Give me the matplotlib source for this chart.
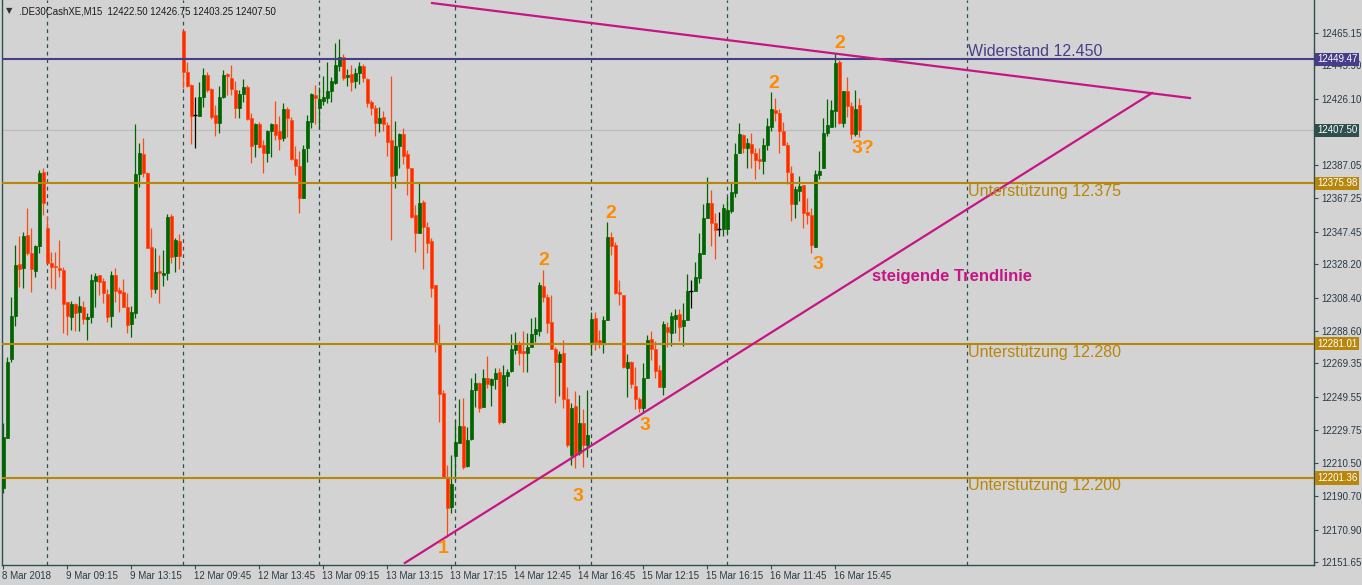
import matplotlib
matplotlib.use("Agg")
import matplotlib.pyplot as plt
import matplotlib.transforms as mtransforms

plt.rcParams['font.family'] = ['Liberation Sans', 'DejaVu Sans']

# DE30 M15 candles (one row = 10 bars)
opens = [
    12195.6, 12225.2, 12272.0, 12297.4, 12328.2, 12325.9, 12345.4, 12334.7, 12324.1, 12338.9,
    12382.8, 12349.6, 12328.8, 12327.0, 12325.9, 12324.7, 12305.7, 12296.9, 12304.5, 12299.8,
    12302.8, 12295.7, 12296.9, 12318.2, 12321.7, 12318.2, 12310.4, 12297.4, 12321.7, 12312.8,
    12311.6, 12302.8, 12292.7, 12299.2, 12381.6, 12393.4, 12382.2, 12338.4, 12313.5, 12324.1,
    12321.7, 12322.9, 12356.7, 12332.9, 12341.9, 12466.3, 12442.0, 12434.3, 12416.5, 12415.9,
    12427.3, 12440.2, 12432.0, 12416.5, 12411.8, 12427.3, 12440.8, 12438.5, 12431.4, 12420.7,
    12429.0, 12433.2, 12414.7, 12399.3, 12411.2, 12398.7, 12394.0, 12407.1, 12411.2, 12407.1,
    12403.0, 12420.1, 12413.6, 12390.5, 12386.3, 12367.4, 12397.0, 12412.4, 12428.4, 12420.7,
    12424.8, 12426.6, 12430.8, 12435.5, 12445.6, 12450.9, 12439.1, 12440.8, 12436.7, 12441.4,
    12445.6, 12437.9, 12424.2, 12420.7, 12411.8, 12415.3, 12410.6, 12401.7, 12381.0, 12398.1,
    12405.3, 12393.4, 12385.2, 12357.3, 12346.6, 12365.0, 12350.2, 12341.9, 12315.8, 12280.8,
    12251.8, 12202.0, 12184.3, 12214.5, 12222.2, 12232.3, 12208.6, 12224.6, 12253.6, 12257.7,
    12243.5, 12260.7, 12256.5, 12260.1, 12264.2, 12234.6, 12261.9, 12264.8, 12277.3, 12281.4,
    12276.7, 12275.5, 12279.1, 12286.8, 12288.5, 12315.2, 12308.7, 12293.9, 12277.9, 12270.2,
    12275.5, 12248.3, 12215.1, 12244.1, 12216.3, 12234.0, 12221.0, 12282.0, 12296.3, 12283.2,
    12281.4, 12295.1, 12344.2, 12339.5, 12311.6, 12309.8, 12266.6, 12270.2, 12256.0, 12248.3,
    12242.9, 12260.7, 12283.8, 12277.9, 12265.4, 12255.4, 12290.9, 12287.3, 12295.7, 12298.6,
    12291.5, 12295.1, 12312.2, 12312.2, 12320.0, 12334.1, 12355.5, 12364.4, 12352.5, 12349.0,
    12349.0, 12349.0, 12359.7, 12370.3, 12394.0, 12404.7, 12397.0, 12399.3, 12394.0, 12390.5,
    12389.3, 12398.7, 12409.4, 12419.5, 12417.7, 12407.1, 12398.7, 12382.2, 12363.8, 12371.5,
    12375.1, 12359.1, 12357.3, 12338.4, 12381.0, 12385.2, 12405.9, 12409.4, 12418.9, 12448.0,
    12411.8, 12430.8, 12421.9, 12405.3, 12422.5,
]
highs = [
    12234.0, 12273.2, 12308.7, 12339.5, 12344.8, 12347.2, 12361.5, 12349.6, 12339.5, 12384.0,
    12385.2, 12356.7, 12335.3, 12335.3, 12342.5, 12326.5, 12305.7, 12306.3, 12305.1, 12309.2,
    12306.3, 12299.2, 12322.3, 12322.9, 12321.7, 12320.0, 12313.5, 12324.1, 12325.9, 12314.7,
    12319.4, 12311.0, 12303.3, 12411.2, 12399.9, 12403.0, 12382.8, 12349.6, 12337.8, 12333.5,
    12336.5, 12357.9, 12357.9, 12343.7, 12346.0, 12466.9, 12447.9, 12434.9, 12427.3, 12436.1,
    12444.4, 12442.0, 12432.6, 12422.4, 12433.7, 12443.2, 12441.4, 12446.1, 12436.7, 12431.4,
    12437.9, 12434.3, 12417.7, 12411.8, 12412.4, 12401.7, 12407.7, 12411.8, 12424.8, 12415.9,
    12423.6, 12421.3, 12415.3, 12398.1, 12395.2, 12398.7, 12416.5, 12429.6, 12434.3, 12433.2,
    12439.6, 12448.0, 12439.1, 12459.2, 12461.6, 12452.7, 12443.8, 12446.2, 12444.4, 12448.0,
    12446.8, 12438.5, 12425.4, 12422.4, 12421.3, 12418.9, 12412.4, 12439.6, 12413.0, 12405.9,
    12408.9, 12395.8, 12385.2, 12363.2, 12376.3, 12366.2, 12353.1, 12343.7, 12315.8, 12292.7,
    12253.6, 12209.1, 12215.1, 12235.8, 12248.3, 12248.9, 12231.7, 12260.7, 12263.7, 12258.3,
    12266.0, 12273.7, 12260.7, 12266.6, 12266.6, 12268.4, 12266.0, 12286.8, 12287.9, 12282.6,
    12288.5, 12287.3, 12296.3, 12296.9, 12317.6, 12324.7, 12310.4, 12309.8, 12279.1, 12276.7,
    12283.2, 12255.4, 12245.9, 12253.0, 12250.6, 12242.3, 12253.6, 12299.8, 12299.8, 12289.1,
    12297.4, 12353.1, 12347.2, 12341.3, 12318.8, 12309.8, 12274.9, 12270.8, 12267.2, 12249.4,
    12269.6, 12286.2, 12288.5, 12282.6, 12268.4, 12294.5, 12293.9, 12299.8, 12301.6, 12301.6,
    12305.1, 12322.3, 12318.8, 12329.4, 12346.6, 12363.8, 12379.8, 12372.1, 12358.5, 12359.1,
    12363.8, 12368.0, 12376.3, 12399.9, 12411.8, 12405.3, 12403.0, 12405.9, 12397.0, 12397.0,
    12403.0, 12414.7, 12430.2, 12426.6, 12420.1, 12412.4, 12400.6, 12386.3, 12374.5, 12380.4,
    12375.1, 12367.4, 12361.5, 12384.0, 12395.2, 12414.7, 12426.0, 12425.4, 12453.3, 12449.1,
    12430.8, 12439.1, 12424.2, 12431.4, 12426.75,
]
lows = [
    12192.5, 12225.2, 12270.2, 12291.5, 12314.7, 12314.1, 12333.5, 12311.6, 12320.6, 12334.7,
    12357.3, 12328.8, 12314.1, 12313.5, 12320.6, 12287.3, 12286.1, 12289.1, 12288.5, 12288.5,
    12292.7, 12283.2, 12293.3, 12302.8, 12309.8, 12305.1, 12293.9, 12291.0, 12305.7, 12299.8,
    12302.8, 12287.3, 12285.0, 12296.3, 12373.9, 12379.9, 12337.8, 12308.7, 12311.0, 12305.1,
    12315.2, 12318.8, 12328.8, 12323.5, 12325.3, 12432.6, 12433.2, 12399.3, 12397.0, 12415.9,
    12421.3, 12430.2, 12414.2, 12404.1, 12405.9, 12426.7, 12428.4, 12428.4, 12414.7, 12414.7,
    12424.2, 12413.6, 12388.1, 12391.7, 12397.0, 12382.2, 12388.7, 12391.7, 12401.7, 12395.8,
    12401.1, 12403.5, 12389.9, 12381.0, 12358.5, 12367.4, 12388.7, 12408.9, 12411.2, 12408.3,
    12422.4, 12423.7, 12424.2, 12434.9, 12442.6, 12437.3, 12433.7, 12430.8, 12432.6, 12434.9,
    12436.1, 12421.3, 12416.5, 12404.1, 12406.5, 12407.1, 12392.3, 12342.5, 12373.3, 12385.2,
    12387.5, 12369.1, 12355.5, 12335.3, 12346.6, 12325.3, 12334.7, 12308.7, 12276.1, 12234.6,
    12202.0, 12166.5, 12180.7, 12200.3, 12222.2, 12206.8, 12208.0, 12224.0, 12243.5, 12240.5,
    12243.5, 12254.8, 12244.1, 12254.2, 12233.4, 12234.0, 12256.0, 12264.2, 12274.9, 12268.4,
    12264.2, 12264.2, 12279.1, 12282.0, 12285.6, 12305.7, 12287.3, 12277.9, 12245.9, 12250.0,
    12242.9, 12219.8, 12209.1, 12207.4, 12215.1, 12208.0, 12213.9, 12274.3, 12277.3, 12278.5,
    12275.5, 12295.1, 12333.5, 12310.4, 12304.0, 12266.6, 12249.4, 12254.8, 12242.3, 12240.5,
    12240.0, 12260.7, 12271.4, 12260.7, 12255.4, 12250.6, 12279.1, 12279.7, 12287.3, 12282.6,
    12279.7, 12295.1, 12302.2, 12312.2, 12317.0, 12334.1, 12355.5, 12338.9, 12331.2, 12344.8,
    12344.8, 12346.6, 12358.5, 12368.0, 12394.0, 12394.0, 12385.2, 12385.2, 12378.6, 12384.6,
    12381.6, 12395.8, 12407.1, 12413.0, 12394.0, 12398.7, 12375.7, 12353.7, 12355.5, 12365.6,
    12349.6, 12351.9, 12334.7, 12338.4, 12378.6, 12385.2, 12404.1, 12409.4, 12409.4, 12411.2,
    12409.4, 12415.3, 12402.3, 12404.1, 12403.25,
]
closes = [
    12225.8, 12270.2, 12297.4, 12327.6, 12325.3, 12344.8, 12334.7, 12325.3, 12338.9, 12382.2,
    12364.4, 12328.8, 12326.5, 12326.5, 12324.7, 12304.5, 12297.4, 12304.5, 12299.2, 12303.3,
    12295.7, 12296.9, 12318.8, 12321.1, 12317.6, 12311.0, 12296.9, 12321.7, 12312.2, 12311.0,
    12302.8, 12292.1, 12299.8, 12381.6, 12394.0, 12382.2, 12337.8, 12313.5, 12323.5, 12322.9,
    12322.9, 12356.2, 12332.4, 12342.5, 12332.9, 12442.0, 12433.7, 12415.9, 12416.5, 12427.3,
    12440.2, 12431.4, 12415.3, 12411.8, 12427.3, 12440.2, 12439.6, 12432.0, 12420.7, 12429.0,
    12433.2, 12414.2, 12398.1, 12411.2, 12397.6, 12394.0, 12407.1, 12411.2, 12404.7, 12402.3,
    12420.1, 12414.7, 12390.5, 12386.3, 12367.4, 12396.4, 12413.0, 12429.0, 12426.6, 12426.0,
    12427.3, 12430.8, 12436.7, 12446.2, 12450.9, 12438.5, 12440.2, 12436.1, 12441.4, 12445.6,
    12438.5, 12423.7, 12420.7, 12411.8, 12414.7, 12411.2, 12400.6, 12380.4, 12398.1, 12405.3,
    12392.3, 12385.2, 12356.1, 12346.6, 12364.4, 12350.2, 12340.7, 12314.1, 12280.8, 12251.2,
    12202.0, 12183.7, 12197.9, 12222.8, 12232.3, 12208.0, 12224.0, 12253.6, 12257.7, 12242.9,
    12260.7, 12257.1, 12260.1, 12263.7, 12234.6, 12262.5, 12264.2, 12277.9, 12280.8, 12275.5,
    12275.5, 12279.1, 12286.8, 12289.7, 12315.8, 12308.7, 12293.3, 12277.9, 12270.2, 12274.9,
    12248.3, 12221.0, 12242.9, 12215.7, 12234.0, 12221.0, 12226.9, 12295.7, 12282.0, 12280.8,
    12295.1, 12344.2, 12338.9, 12311.0, 12310.4, 12267.2, 12270.2, 12257.1, 12248.3, 12242.9,
    12260.7, 12283.2, 12277.9, 12264.8, 12255.4, 12292.7, 12287.9, 12297.4, 12298.0, 12290.9,
    12295.1, 12312.2, 12312.2, 12320.6, 12334.7, 12355.5, 12364.4, 12352.5, 12348.4, 12349.0,
    12361.5, 12360.3, 12370.9, 12393.4, 12405.3, 12397.0, 12399.9, 12394.0, 12389.9, 12389.3,
    12398.7, 12410.0, 12420.1, 12417.7, 12407.1, 12398.7, 12382.8, 12363.8, 12372.7, 12374.5,
    12358.5, 12357.3, 12339.5, 12381.6, 12383.4, 12405.9, 12410.6, 12419.5, 12447.4, 12411.8,
    12430.8, 12421.9, 12405.3, 12420.1, 12407.5,
]

# time axis labels (bar index -> label)
label_bars = [0, 16, 32, 48, 64, 80, 96, 112, 128, 144, 160, 176, 192, 208]
time_labels = ["8 Mar 2018", "9 Mar 09:15", "9 Mar 13:15", "12 Mar 09:45", "12 Mar 13:45",
               "13 Mar 09:15", "13 Mar 13:15", "13 Mar 17:15", "14 Mar 12:45", "14 Mar 16:45",
               "15 Mar 12:15", "15 Mar 16:15", "16 Mar 11:45", "16 Mar 15:45"]
day_start_bars = [11, 45, 79, 113, 147, 181, 241]

price_ticks = [12465.15, 12445.90, 12426.10, 12387.05, 12367.25, 12347.45, 12328.20,
               12308.40, 12288.60, 12269.35, 12249.55, 12229.75, 12210.50, 12190.70,
               12170.90, 12151.65]

resistance = 12449.47
supports = [12375.98, 12281.01, 12201.36]
last_price = 12407.50
level_texts = ["Widerstand 12.450", "Unterstützung 12.375", "Unterstützung 12.280", "Unterstützung 12.200"]

# trend line anchors (bar index, price)
falling_line = ([107.2, 296.7], [12482.9, 12426.6])
rising_line = ([100.4, 287.2], [12151.1, 12429.6])

# wave counts
wave_text = ["1", "3", "2", "3", "2", "2", "3", "2", "3?"]
wave_bar = [109.9, 143.7, 135.2, 160.4, 151.9, 192.7, 203.7, 209.2, 214.9]
wave_price = [12159.4, 12190.2, 12330.6, 12232.8, 12357.9, 12435.5, 12327.7, 12459.2, 12397.0]

BG = '#d3d3d3'
AXC = '#2f4f4f'
BULL = '#006400'
BEAR = '#ff2a00'
BEAR_WICK = '#ff4a10'
GOLD = '#b8860b'
PURPLE = '#483d8b'
MAGENTA = '#c71585'
ORANGE = '#ff8c00'

fig = plt.figure(figsize=(13.62, 5.85), dpi=100)
fig.patch.set_facecolor(BG)
ax = fig.add_axes([1.5 / 1362, 20.5 / 585, 1312.5 / 1362, 564.5 / 585])
ax.set_facecolor(BG)
ax.set_xlim(-0.45, 327.7)
ax.set_ylim(12150.17, 12484.71)

# background lines
for b in day_start_bars:
    ax.axvline(b, color=AXC, lw=0.9, ls=(0, (3, 3)), zorder=0.5)
ax.axhline(last_price, color='#bdbdbd', lw=0.9, zorder=0.6)

# candles
for i, (o, h, l, c) in enumerate(zip(opens, highs, lows, closes)):
    if c > o:
        col, wick = BULL, BULL
    elif c < o:
        col, wick = BEAR, BEAR_WICK
    else:
        col, wick = 'black', 'black'
    ax.vlines(i, l, h, color=wick, lw=0.9, zorder=2)
    if c == o:
        ax.hlines(o, i - 0.45, i + 0.45, color=col, lw=1.0, zorder=3)
    else:
        ax.bar(i, abs(c - o), bottom=min(o, c), width=0.72, color=col,
               edgecolor=wick, linewidth=0.5, zorder=3)

# support / resistance
ax.axhline(resistance, color=PURPLE, lw=1.5, zorder=4)
for s in supports:
    ax.axhline(s, color=GOLD, lw=1.5, zorder=4)

ax.plot(*falling_line, color=MAGENTA, lw=1.6, zorder=5)
ax.plot(*rising_line, color=MAGENTA, lw=1.6, zorder=5)

# level labels
level_y = [12453.9, 12371.5, 12276.1, 12196.7]
for txt, yv, col in zip(level_texts, level_y, [PURPLE, GOLD, GOLD, GOLD]):
    ax.text(241.2, yv, txt, color=col, fontsize=11.5, ha='left', va='center', zorder=6)

for t, xb, yp in zip(wave_text, wave_bar, wave_price):
    ax.text(xb, yp, t, color=ORANGE, fontsize=14, fontweight='bold',
            ha='center', va='center', zorder=6)

ax.text(217.2, 12320.6, "steigende Trendlinie", color=MAGENTA, fontsize=12,
        fontweight='bold', ha='left', va='center', zorder=6)

# header
ax.text(4 / 1312, 1 - 11 / 564.5, "\u25bc", transform=ax.transAxes, fontsize=6,
        color='#333333', va='center', ha='left', family='DejaVu Sans')
ax.text(17 / 1312, 1 - 11 / 564.5, ".DE30CashXE,M15  12422.50 12426.75 12403.25 12407.50",
        transform=ax.transAxes, fontsize=6.9, color='#1a1a1a', va='center', ha='left')

# axes styling
ax.spines['top'].set_visible(False)
for side in ['left', 'right', 'bottom']:
    ax.spines[side].set_color(AXC)
    ax.spines[side].set_linewidth(1.0)

ax.yaxis.tick_right()
ax.set_yticks(price_ticks)
ax.set_yticklabels([f"{p:.2f}" for p in price_ticks])
ax.tick_params(axis='y', which='both', direction='out', length=3, width=0.8,
               color=AXC, labelsize=7, labelcolor='#2a3a46', pad=2)

ax.set_xticks(label_bars)
ax.set_xticklabels(time_labels)
ax.tick_params(axis='x', direction='out', length=3, width=0.8, color=AXC,
               labelsize=7, labelcolor='#2a3a46', pad=1.5)
shift = mtransforms.ScaledTranslation(-1 / 100, 0, fig.dpi_scale_trans)
for lab in ax.get_xticklabels():
    lab.set_ha('left')
    lab.set_transform(lab.get_transform() + shift)

# price boxes on the scale
blend = mtransforms.blended_transform_factory(ax.transAxes, ax.transData)
boxes = [(resistance, PURPLE), (last_price, '#2f4f4f')] + [(s, GOLD) for s in supports]
for p, col in boxes:
    ax.text(1 + 3 / 1312, p, f"{p:.2f}", transform=blend, ha='left', va='center',
            fontsize=7, color='white', clip_on=False, zorder=10,
            bbox=dict(boxstyle='square,pad=0.18', fc=col, ec='none'))

fig.savefig("out.png", dpi=100, facecolor=BG)
